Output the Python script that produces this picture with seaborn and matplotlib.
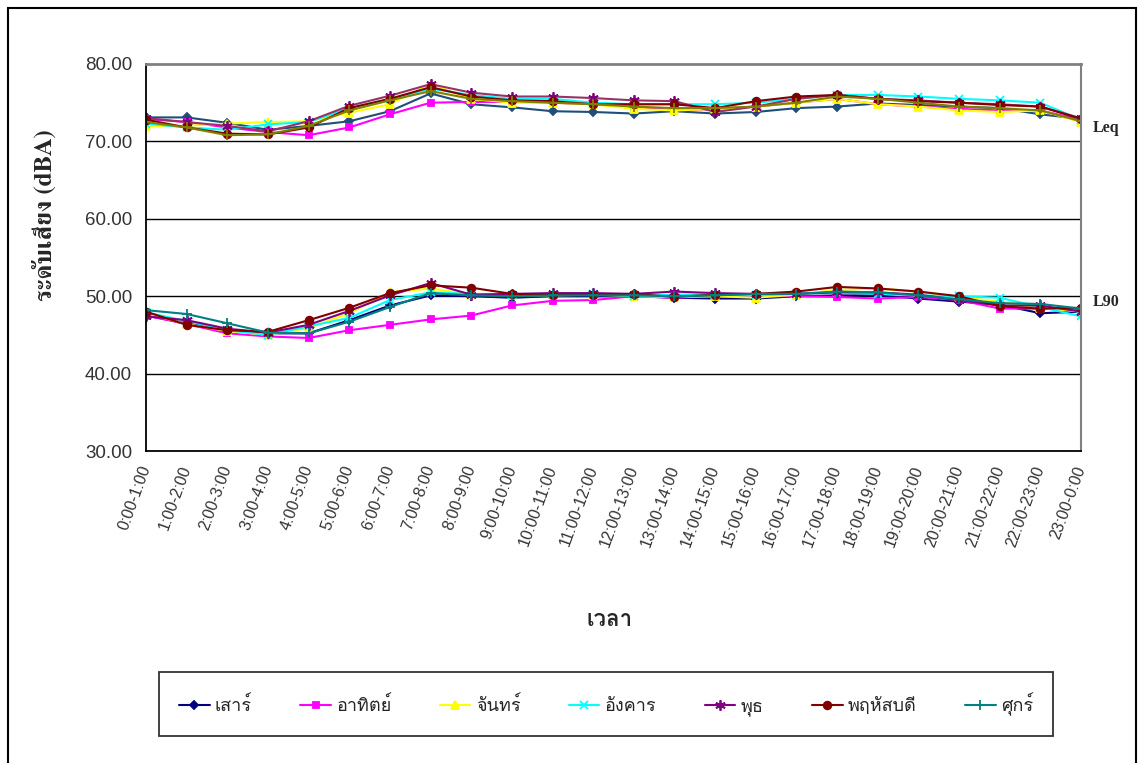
import matplotlib
matplotlib.use("Agg")
import matplotlib.pyplot as plt
import seaborn as sns
import pandas as pd
import numpy as np
from matplotlib import font_manager
from matplotlib.ft2font import FT2Font
from matplotlib.patches import Rectangle

hours = ["0:00-1:00", "1:00-2:00", "2:00-3:00", "3:00-4:00", "4:00-5:00", "5:00-6:00",
         "6:00-7:00", "7:00-8:00", "8:00-9:00", "9:00-10:00", "10:00-11:00", "11:00-12:00",
         "12:00-13:00", "13:00-14:00", "14:00-15:00", "15:00-16:00", "16:00-17:00",
         "17:00-18:00", "18:00-19:00", "19:00-20:00", "20:00-21:00", "21:00-22:00",
         "22:00-23:00", "23:00-0:00"]
days = ["เสาร์", "อาทิตย์", "จันทร์", "อังคาร", "พุธ", "พฤหัสบดี", "ศุกร์"]

# Leq per day
leq_sat = [73.1, 73.1, 72.4, 71.5, 72.0, 72.6, 73.9, 76.2, 74.8, 74.4, 73.9, 73.8, 73.6, 73.9,
           73.6, 73.8, 74.3, 74.5, 74.9, 74.7, 74.5, 74.3, 73.5, 72.9]
leq_sun = [72.9, 72.5, 71.8, 71.2, 70.8, 71.8, 73.5, 75.0, 75.1, 75.1, 75.0, 74.8, 74.5, 74.0,
           74.2, 74.5, 75.0, 75.5, 74.8, 74.5, 74.2, 74.0, 74.0, 72.8]
leq_mon = [72.0, 72.0, 72.3, 72.5, 72.6, 73.7, 74.8, 77.4, 75.5, 75.0, 75.0, 74.8, 74.2, 74.0,
           74.2, 74.5, 75.0, 75.5, 74.8, 74.5, 74.0, 73.8, 74.0, 72.5]
leq_tue = [72.3, 71.8, 71.5, 72.2, 72.5, 74.3, 75.5, 76.8, 76.0, 75.5, 75.5, 75.0, 74.8, 74.8,
           74.8, 75.0, 75.5, 76.0, 76.0, 75.8, 75.5, 75.3, 75.0, 72.8]
leq_wed = [73.0, 72.5, 72.0, 71.3, 72.6, 74.6, 75.9, 77.4, 76.3, 75.8, 75.8, 75.6, 75.3, 75.2,
           73.8, 74.5, 75.5, 76.0, 75.5, 75.3, 75.0, 74.8, 74.5, 73.0]
leq_thu = [72.8, 71.8, 71.0, 70.9, 71.8, 74.3, 75.5, 77.0, 75.8, 75.3, 75.2, 74.8, 74.8, 74.8,
           74.3, 75.2, 75.8, 76.0, 75.5, 75.2, 75.0, 74.7, 74.5, 72.9]
leq_fri = [72.5, 71.8, 70.8, 70.9, 72.0, 74.0, 75.3, 76.5, 75.5, 75.2, 75.0, 74.8, 74.5, 74.3,
           74.3, 74.5, 75.0, 75.8, 75.5, 75.0, 74.5, 74.3, 74.0, 72.6]

# L90 per day
l90_sat = [47.5, 46.5, 45.6, 45.2, 45.2, 46.9, 48.8, 50.1, 50.0, 49.8, 50.0, 50.0, 50.0, 49.8,
           49.7, 49.7, 50.0, 50.1, 50.1, 49.7, 49.3, 48.9, 47.8, 48.0]
l90_sun = [47.5, 46.4, 45.2, 44.8, 44.6, 45.6, 46.3, 47.0, 47.5, 48.8, 49.4, 49.5, 50.0, 49.8,
           50.0, 50.0, 50.0, 49.9, 49.7, 49.9, 49.5, 48.4, 48.4, 48.2]
l90_mon = [47.8, 46.4, 45.5, 45.0, 45.9, 47.8, 50.5, 51.0, 50.2, 50.1, 50.1, 50.2, 50.0, 49.9,
           50.0, 49.8, 50.2, 50.8, 51.0, 50.6, 49.9, 49.3, 48.5, 48.0]
l90_tue = [47.9, 46.8, 45.6, 45.0, 46.1, 47.2, 49.5, 50.5, 50.3, 50.2, 50.2, 50.3, 50.0, 50.2,
           50.2, 50.1, 50.3, 50.5, 50.3, 50.1, 50.0, 49.8, 48.6, 47.4]
l90_wed = [47.4, 46.9, 45.8, 45.3, 46.3, 48.1, 50.1, 51.7, 50.2, 50.3, 50.4, 50.4, 50.3, 50.6,
           50.4, 50.3, 50.3, 50.5, 50.5, 50.2, 49.5, 48.8, 48.8, 48.0]
l90_thu = [48.0, 46.3, 45.6, 45.4, 46.9, 48.5, 50.4, 51.4, 51.1, 50.3, 50.2, 50.2, 50.3, 49.9,
           50.2, 50.3, 50.6, 51.2, 51.0, 50.6, 50.0, 48.7, 48.4, 48.5]
l90_fri = [48.2, 47.7, 46.5, 45.3, 45.2, 46.7, 48.6, 50.4, 50.1, 50.0, 50.1, 50.1, 50.1, 50.0,
           50.1, 50.3, 50.3, 50.6, 50.5, 50.1, 49.6, 49.1, 49.0, 48.4]

leq_all = [leq_sat, leq_sun, leq_mon, leq_tue, leq_wed, leq_thu, leq_fri]
l90_all = [l90_sat, l90_sun, l90_mon, l90_tue, l90_wed, l90_thu, l90_fri]

markers = ["D", "s", "^", "x", (6, 2, 0), "o", "+"]
msizes = [4.5, 5, 5.5, 6, 7.5, 5.5, 7]
l90_colors = ["#000080", "#ff00ff", "#ffff00", "#00ffff", "#800080", "#800000", "#008080"]
leq_colors = ["#1f4e79", "#ff00ff", "#ffff00", "#00ffff", "#993366", "#800000", "#808000"]
leq_mfc = ["#1f4e79", "#ff00ff", "#ffff00", "#00ffff", "#800080", "#800000", "#808000"]


def thai_fonts():
    found = []
    for f in font_manager.fontManager.ttflist:
        if f.name in found:
            continue
        try:
            if 0x0E40 in FT2Font(f.fname).get_charmap():
                found.append(f.name)
        except Exception:
            pass
    return found


sns.set_style("white")
thai = thai_fonts()
sans = [n for n in thai if "Serif" not in n] or thai
serif = [n for n in thai if "Serif" in n] or sans
plt.rcParams["font.family"] = sans[:1] + ["DejaVu Sans"]

rows = []
for d, leq, l90 in zip(days, leq_all, l90_all):
    for i in range(len(hours)):
        rows.append({"pos": i, "day": d, "metric": "Leq", "value": leq[i]})
        rows.append({"pos": i, "day": d, "metric": "L90", "value": l90[i]})
df = pd.DataFrame(rows)

fig = plt.figure(figsize=(11.39, 7.63), dpi=100)
W, H = 1139, 763
ax = fig.add_axes([146 / W, 1 - 451 / H, (1081 - 146) / W, (451 - 64) / H])

for k, d in enumerate(days):
    sub = df[(df["day"] == d) & (df["metric"] == "Leq")]
    sns.lineplot(data=sub, x="pos", y="value", ax=ax, color=leq_colors[k], lw=1.5,
                 marker=markers[k], markersize=msizes[k], markerfacecolor=leq_mfc[k],
                 markeredgecolor=leq_mfc[k], markeredgewidth=1.3, sort=False, legend=False)
for k, d in enumerate(days):
    sub = df[(df["day"] == d) & (df["metric"] == "L90")]
    sns.lineplot(data=sub, x="pos", y="value", ax=ax, color=l90_colors[k], lw=1.5,
                 marker=markers[k], markersize=msizes[k], markerfacecolor=l90_colors[k],
                 markeredgecolor=l90_colors[k], markeredgewidth=1.3, sort=False,
                 label=d, legend=False)

ax.set_xlim(0, len(hours) - 1)
ax.set_ylim(30, 80)
ax.set_yticks(np.arange(30, 81, 10))
ax.set_yticklabels([f"{v:.2f}" for v in np.arange(30, 81, 10)], fontsize=13.5,
                   color="#333333", family=["Liberation Sans", "DejaVu Sans"])
ax.set_xticks(range(len(hours)))
ax.set_xticklabels(hours, rotation=70, ha="right", va="center", rotation_mode="anchor",
                   fontsize=11.5, color="#333333", family=["Liberation Sans", "DejaVu Sans"])
ax.tick_params(axis="both", direction="out", length=7, width=1, color="black", pad=3)
ax.tick_params(axis="x", pad=4)
for y in [40, 50, 60, 70]:
    ax.axhline(y, color="black", lw=1, zorder=0)
ax.spines["left"].set_color("black")
ax.spines["bottom"].set_color("black")
ax.spines["left"].set_linewidth(1.3)
ax.spines["bottom"].set_linewidth(1.3)
ax.spines["top"].set_color("#808080")
ax.spines["top"].set_linewidth(2)
ax.spines["right"].set_color("#808080")
ax.spines["right"].set_linewidth(1.5)
ax.set_xlabel("")
ax.set_ylabel("")

fig.text(45 / W, 1 - 215 / H, "ระดับเสียง (dBA)", rotation=90, ha="center", va="center",
         fontsize=18, fontweight="bold", family=serif[:1] + ["DejaVu Serif"])
fig.text(610 / W, 1 - 620 / H, "เวลา", ha="center", va="center", fontsize=16,
         fontweight="bold")
fig.text(1093 / W, 1 - 128 / H, "Leq", ha="left", va="center", fontsize=11.5,
         fontweight="bold", family=["Liberation Serif", "DejaVu Serif"])
fig.text(1093 / W, 1 - 302 / H, "L90", ha="left", va="center", fontsize=11.5,
         fontweight="bold", family=["Liberation Serif", "DejaVu Serif"])

handles, labels = ax.get_legend_handles_labels()
leg = fig.legend(handles, labels, ncol=7, loc="center",
                 bbox_to_anchor=(150 / W, 1 - 735 / H, (1062 - 150) / W, 62 / H),
                 mode="expand", frameon=True, fancybox=False, edgecolor="black",
                 fontsize=13, handlelength=1.7, borderpad=1.1, handletextpad=0.3)
leg.get_frame().set_linewidth(1.3)

fig.patches.append(Rectangle((8 / W, -0.05), (1136 - 8) / W, 1.05 - 8 / H,
                             transform=fig.transFigure, fill=False, edgecolor="black",
                             lw=1.5))

fig.savefig("out.png", dpi=100, facecolor="white")
